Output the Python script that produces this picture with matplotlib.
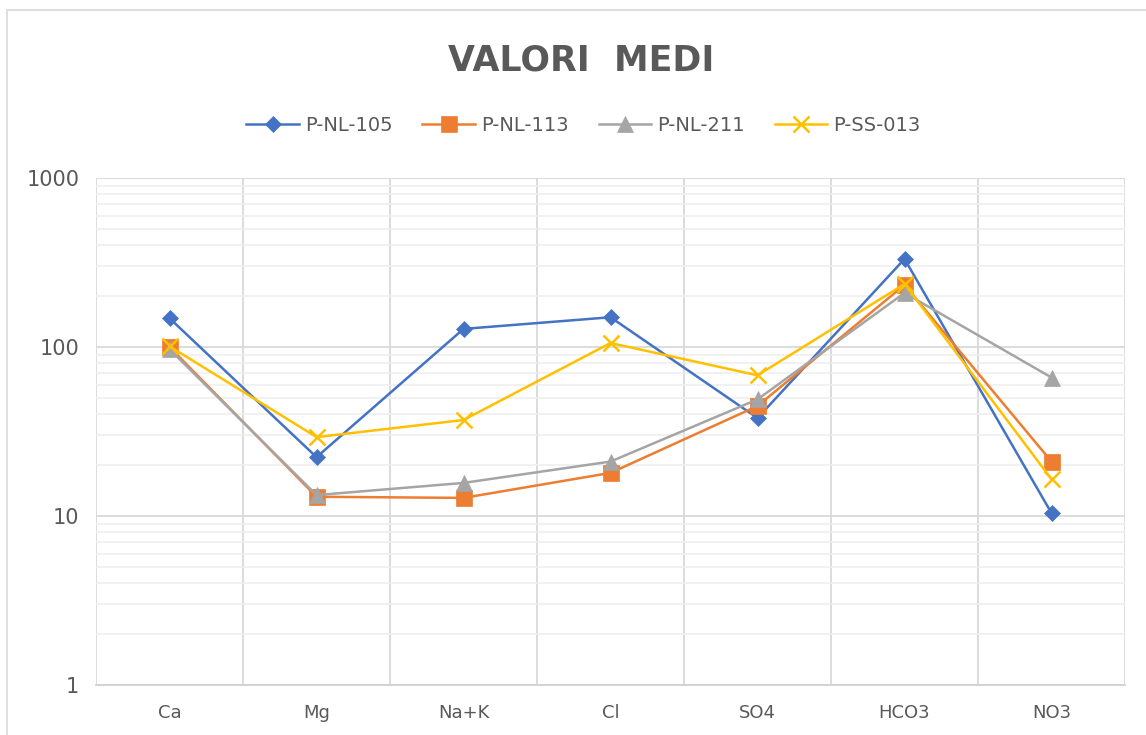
import matplotlib.pyplot as plt
from matplotlib.patches import Rectangle
import numpy as np

categories = ['Ca', 'Mg', 'Na+K', 'Cl', 'SO4', 'HCO3', 'NO3']
series_names = ['P-NL-105', 'P-NL-113', 'P-NL-211', 'P-SS-013']
p_nl_105 = [148, 22.3, 128, 150, 38, 332, 10.4]
p_nl_113 = [100, 13.0, 12.8, 18.0, 44.8, 233, 21.0]
p_nl_211 = [97, 13.3, 15.7, 21.0, 49, 209, 66]
p_ss_013 = [101, 29.3, 37, 105.6, 68, 236, 16.5]
y_ticks = [1, 10, 100, 1000]

colors = ['#4472C4', '#ED7D31', '#A5A5A5', '#FFC000']
markers = ['D', 's', '^', 'x']
sizes = [8.5, 12, 12, 12]

fig = plt.figure(figsize=(11.46, 7.35), dpi=100)
ax = fig.add_axes([0.0838, 0.068, 0.8979, 0.6898])

x = np.arange(len(categories))
for vals, name, c, m, s in zip([p_nl_105, p_nl_113, p_nl_211, p_ss_013],
                               series_names, colors, markers, sizes):
    ax.plot(x, vals, color=c, marker=m, markersize=s, linewidth=1.8,
            markeredgewidth=1.8 if m == 'x' else 0.5, markeredgecolor=c,
            label=name, zorder=3)

ax.set_yscale('log')
ax.set_ylim(1, 1000)
ax.set_xlim(-0.5, len(categories) - 0.5)
ax.set_yticks(y_ticks)
ax.set_yticklabels([str(t) for t in y_ticks])
ax.yaxis.set_minor_formatter(plt.NullFormatter())
ax.set_xticks(x)
ax.set_xticklabels(categories)

# grid
for b in np.arange(-0.5, len(categories), 1.0):
    ax.axvline(b, color='#d9d9d9', linewidth=1.3, zorder=1)
ax.grid(True, which='major', axis='y', color='#d9d9d9', linewidth=1.3, zorder=1)
ax.grid(True, which='minor', axis='y', color='#efefef', linewidth=1.2, zorder=1)

for sp in ['top', 'right', 'left']:
    ax.spines[sp].set_visible(False)
ax.spines['bottom'].set_color('#d0d0d0')
ax.spines['bottom'].set_linewidth(1.3)
ax.tick_params(axis='both', which='both', length=0, colors='#595959')
ax.tick_params(axis='x', pad=14, labelsize=13)
ax.tick_params(axis='y', pad=12, labelsize=15)

fig.text(0.507, 0.918, 'VALORI  MEDI', ha='center', va='center',
         fontsize=25, fontweight='bold', color='#595959')
fig.legend(loc='center', bbox_to_anchor=(0.509, 0.829), ncol=4, frameon=False,
           fontsize=14, labelcolor='#595959', handlelength=2.7,
           columnspacing=1.55, handletextpad=0.3)

fig.patches.append(Rectangle((0.006, -0.01), 1.0, 0.997, transform=fig.transFigure,
                             fill=False, edgecolor='#d9d9d9', linewidth=1.2))

fig.savefig('out.png', dpi=100)
